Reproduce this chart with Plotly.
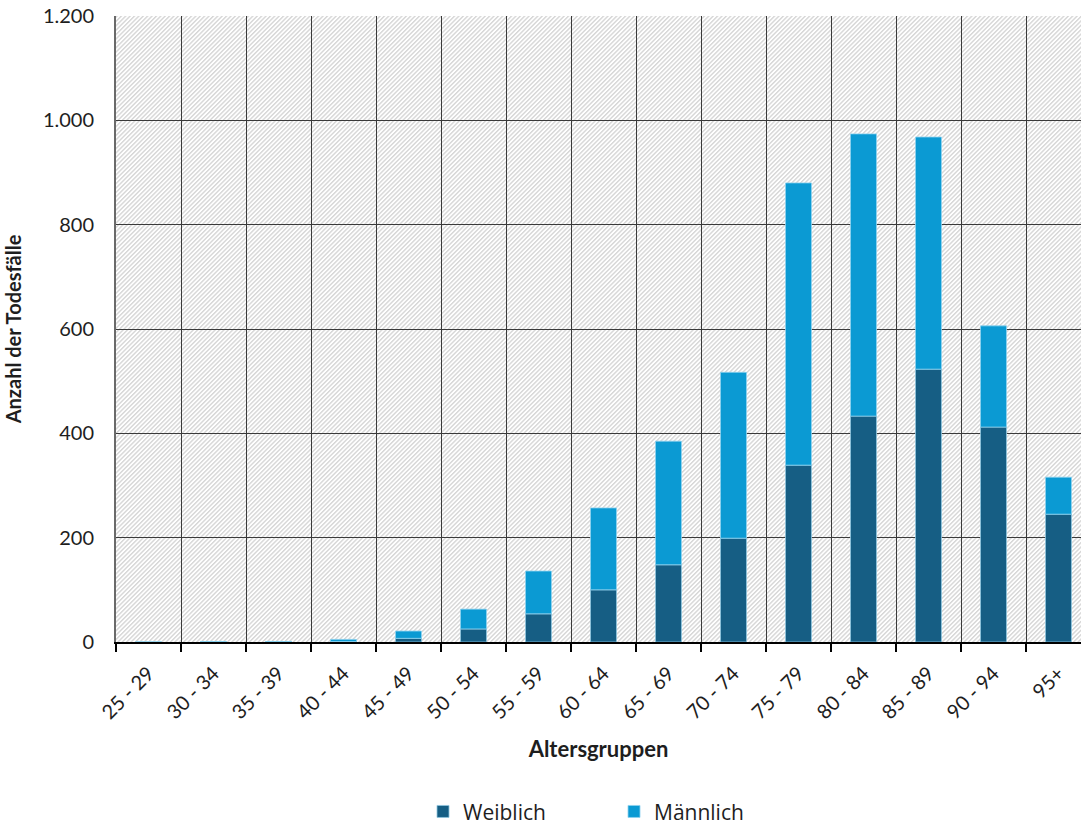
import base64
import plotly.graph_objects as go

# Age groups and deaths by sex
age_groups = ["25 - 29", "30 - 34", "35 - 39", "40 - 44", "45 - 49", "50 - 54",
              "55 - 59", "60 - 64", "65 - 69", "70 - 74", "75 - 79", "80 - 84",
              "85 - 89", "90 - 94", "95+"]
weiblich = [0, 0, 0, 1, 7, 25, 54, 100, 148, 199, 339, 433, 523, 412, 245]
maennlich = [0, 1, 1, 4, 14, 38, 82, 157, 237, 318, 541, 541, 445, 194, 71]

y_ticks = [0, 200, 400, 600, 800, 1000, 1200]
Y_MAX = 1200

C_W = "#165E84"
C_M = "#0B9AD3"
GRID = "#3a3a3a"
FONT = "Lato"

n = len(age_groups)
xs = list(range(n))
x_lo = -0.5
x_hi = -0.5 + 965 / 65  # right edge of the visible plot area

# fine diagonal hatching used as the plot-area background
hatch_svg = (
    '<svg xmlns="http://www.w3.org/2000/svg" width="965" height="626">'
    '<defs><pattern id="h" width="3.1" height="3.1" patternUnits="userSpaceOnUse" '
    'patternTransform="rotate(45)">'
    '<rect width="3.1" height="3.1" fill="#ffffff"/>'
    '<rect width="1.4" height="3.1" fill="#d6d6d6"/>'
    '</pattern></defs>'
    '<rect width="965" height="626" fill="url(#h)"/></svg>'
)
hatch_src = "data:image/svg+xml;base64," + base64.b64encode(hatch_svg.encode()).decode()

fig = go.Figure()

fig.add_trace(go.Bar(
    x=xs, y=weiblich, name="Weiblich", width=0.4,
    marker=dict(color=C_W, line=dict(width=0.8, color="#8fc6e0")),
))
fig.add_trace(go.Bar(
    x=xs, y=maennlich, base=weiblich, name="Männlich", width=0.4,
    marker=dict(color=C_M, line=dict(width=0.8, color="#8fd3f0")),
))

fig.update_layout(
    width=1081, height=825,
    margin=dict(l=116, r=0, t=16, b=183),
    paper_bgcolor="white", plot_bgcolor="rgba(0,0,0,0)",
    barmode="overlay",
    separators=",.",
    font=dict(family=FONT, size=18, color="#1e1e1e"),
    images=[dict(source=hatch_src, xref="paper", yref="paper",
                 x=0, y=1, sizex=1, sizey=1, xanchor="left", yanchor="top",
                 sizing="stretch", layer="below")],
    xaxis=dict(
        range=[x_lo, x_hi],
        tickmode="array", tickvals=xs, ticktext=age_groups,
        tickangle=-45, ticks="", showgrid=False, ticklabelstandoff=10,
        tickfont=dict(size=20, family=FONT, color="#1e1e1e"),
        showline=True, linecolor="black", linewidth=2,
        minor=dict(tick0=-0.5, dtick=1, showgrid=True, gridcolor=GRID,
                   gridwidth=1, ticks="outside", ticklen=8,
                   tickcolor="black", tickwidth=2),
        title=dict(text="<b>Altersgruppen</b>", font=dict(size=22), standoff=19),
        zeroline=False,
    ),
    yaxis=dict(
        range=[0, Y_MAX],
        tickmode="array", tickvals=y_ticks, tickformat=",d",
        showgrid=True, gridcolor=GRID, gridwidth=1,
        showline=True, linecolor="#6a6a6a", linewidth=2,
        ticks="", ticklabelstandoff=16,
        tickfont=dict(size=20, family=FONT, color="#1e1e1e"),
        title=dict(text="<b>Anzahl der Todesfälle</b>", font=dict(size=20),
                   standoff=16),
        zeroline=False,
    ),
    legend=dict(
        orientation="h", xref="container", yref="container",
        x=0.568, xanchor="center", y=0.016, yanchor="middle",
        font=dict(size=21, family="Open Sans", color="#1e1e1e"),
        entrywidth=146, entrywidthmode="pixels",
        traceorder="normal",
    ),
)

fig.write_html("out.html")
